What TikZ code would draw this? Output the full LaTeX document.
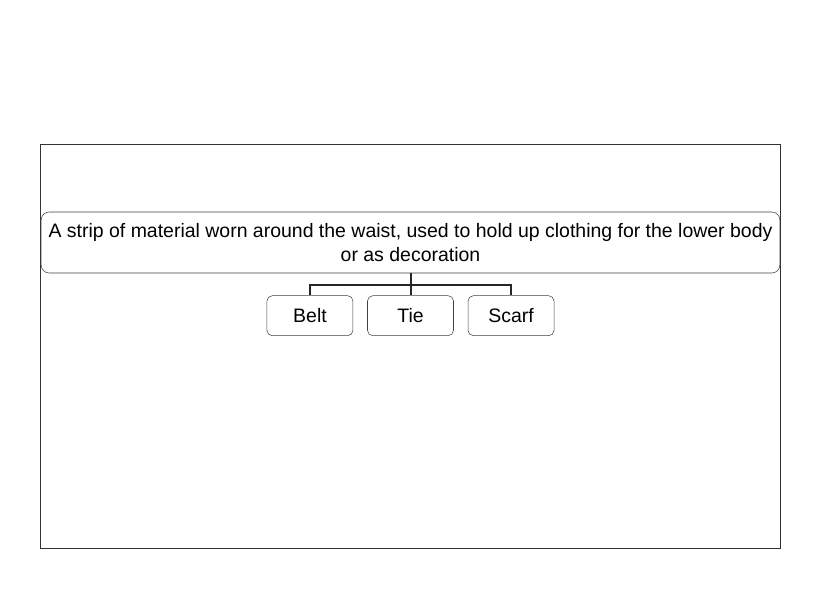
\documentclass[tikz,border=0pt]{standalone}
\usepackage{fontspec}
\setmainfont{Liberation Sans}
\usepackage{tikz}
\usetikzlibrary{positioning}
\tikzstyle{line} = [draw=black!85, line width=1.5pt]
\tikzstyle{question} = [rectangle, draw=black!75, fill=white, align=center,
    minimum width=554pt, minimum height=45.75pt, rounded corners=6pt,
    font=\fontsize{14.6}{17.8}\selectfont, inner sep=0pt]
\tikzstyle{answer} = [rectangle, draw=black!75, fill=white, text centered,
    minimum width=64.5pt, minimum height=30pt, rounded corners=4pt,
    font=\fontsize{14.6}{17}\selectfont]

\begin{document}
\begin{tikzpicture}[x=0.75pt, y=-0.75pt]
      \useasboundingbox (0,0) rectangle (821,616);
      % Frame
      \node [draw=black!80, line width=0.7pt, minimum width=554.8pt, minimum height=303.5pt,
        inner sep=0pt] (frame) at (410.4,346.4) {};
      % Place question and answers
      \node [question] (question) at (410.5,242.5) {A strip of material worn around the waist, used to hold up clothing for the lower body\\or as decoration};
      \node [answer, below of=question, node distance=54.9pt] (tie) {Tie};
      \node [answer, left of=tie, node distance=75.4pt] (belt) {Belt};
      \node [answer, right of=tie, node distance=75.4pt] (scarf) {Scarf};
      % Draw edges
      \path [line] (question.south) -- (tie.north);
      \path [line] (belt.north) -- ++(0,-10.5) -| (scarf.north);
  \end{tikzpicture}
\end{document}
